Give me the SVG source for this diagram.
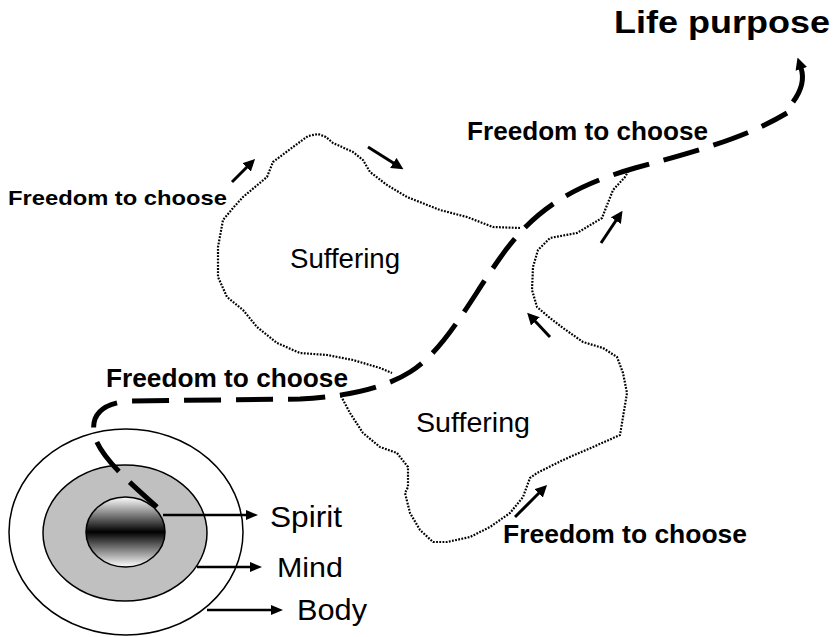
<svg xmlns="http://www.w3.org/2000/svg" width="838" height="637" viewBox="0 0 838 637">
<style>
  .lbl { font-family: "Liberation Sans", Arial, sans-serif; fill: #000; }
  .b { font-weight: bold; }
  .dot { fill: none; stroke: #000; stroke-width: 2.2; stroke-dasharray: 1.8 1.4; stroke-linejoin: round; }
  .arr { fill: none; stroke: #000; stroke-width: 3; marker-end: url(#head); }
  .larr { fill: none; stroke: #000; stroke-width: 2.5; marker-end: url(#head2); }
  .path { fill: none; stroke: #000; stroke-width: 5; stroke-dasharray: 37 15; }
</style>
<defs>
  <linearGradient id="spiritGrad" x1="0" y1="0" x2="0" y2="1">
    <stop offset="0" stop-color="#ffffff"/>
    <stop offset="0.5" stop-color="#000000"/>
    <stop offset="1" stop-color="#ffffff"/>
  </linearGradient>
  <marker id="head" viewBox="0 0 12 12" refX="2" refY="6" markerWidth="12" markerHeight="12" markerUnits="userSpaceOnUse" orient="auto">
    <path d="M0,0 L12,6 L0,12 z" fill="#000"/>
  </marker>
  <marker id="head2" viewBox="0 0 12 10" refX="2" refY="5" markerWidth="12" markerHeight="10" markerUnits="userSpaceOnUse" orient="auto">
    <path d="M0,0 L12,5 L0,10 z" fill="#000"/>
  </marker>
  <marker id="head3" viewBox="0 0 12 12" refX="1" refY="6" markerWidth="12" markerHeight="12" markerUnits="userSpaceOnUse" orient="auto">
    <path d="M0,0 L12,6 L0,12 z" fill="#000"/>
  </marker>
</defs>

<g id="suffering1">
  <path class="dot" d="M520,228 L493,227 L467,217 L440,210 L407,197 L387,185 L370,172 L363,160 L353,152 L333,143 L326,137 L318,134 L308,136 L293,147 L273,162 L267,177 L255,187 L243,197 L233,208 L223,220 L218,247 L218,277 L227,297 L243,310 L257,327 L277,343 L300,353 L327,355 L353,360 L380,368 L392,373"/>
  <text class="lbl" x="290" y="268" font-size="27" textLength="110" lengthAdjust="spacingAndGlyphs">Suffering</text>
</g>

<g id="suffering2">
  <path class="dot" d="M341,396 L350,413 L363,433 L380,447 L397,453 L408,467 L408,487 L405,493 L410,513 L420,530 L433,542 L447,542 L470,537 L490,527 L510,513 L523,497 L530,478 L537,473 L563,460 L593,447 L620,435 L623,417 L627,393 L623,373 L617,357 L603,348 L583,342 L563,328 L550,318 L537,307 L532,290 L533,267 L538,250 L550,238 L577,233 L602,218 L613,190 L625,177 L628,172"/>
  <text class="lbl" x="416" y="432" font-size="27" textLength="114" lengthAdjust="spacingAndGlyphs">Suffering</text>
</g>

<g id="self">
  <ellipse cx="126" cy="532" rx="117" ry="103" fill="#fff" stroke="#000" stroke-width="1.5"/>
  <ellipse cx="125" cy="533" rx="82" ry="68" fill="#c0c0c0" stroke="#000" stroke-width="1.5"/>
  <ellipse cx="125.5" cy="532" rx="39.5" ry="35" fill="url(#spiritGrad)" stroke="#000" stroke-width="1.5"/>
</g>

<g id="connectors">
  <path class="path" d="M157,507 C135,487 105,462 96,440 C88,418 100,403 130,401 L300,399 C345,397 385,388 410,372 C445,350 470,300 500,258 C530,215 565,188 635,168 C700,150 745,138 787,113"/>
  <path d="M793,102 C801,91 805,80 801,68" fill="none" stroke="#000" stroke-width="5" marker-end="url(#head3)"/>
  <path class="arr" d="M232,182 L248,166"/>
  <path class="arr" d="M368,147 L395,164"/>
  <path class="arr" d="M601,243 L617,219"/>
  <path class="arr" d="M550,337 L534,320"/>
  <path class="arr" d="M515,517 L540,492"/>
  <path class="larr" d="M163,515 L248,515"/>
  <path class="larr" d="M197,567 L252,567"/>
  <path class="larr" d="M207,610 L273,610"/>
</g>

<g id="labels">
  <text class="lbl b" x="614" y="33" font-size="32" textLength="216" lengthAdjust="spacingAndGlyphs">Life purpose</text>
  <text class="lbl b" x="8" y="205" font-size="21" textLength="219" lengthAdjust="spacingAndGlyphs">Freedom to choose</text>
  <text class="lbl b" x="106" y="387" font-size="25.5" textLength="242" lengthAdjust="spacingAndGlyphs">Freedom to choose</text>
  <text class="lbl b" x="467" y="140" font-size="25" textLength="241" lengthAdjust="spacingAndGlyphs">Freedom to choose</text>
  <text class="lbl b" x="503" y="543" font-size="25" textLength="244" lengthAdjust="spacingAndGlyphs">Freedom to choose</text>
  <text class="lbl" x="270" y="527" font-size="29" textLength="72" lengthAdjust="spacingAndGlyphs">Spirit</text>
  <text class="lbl" x="277" y="577" font-size="28" textLength="66" lengthAdjust="spacingAndGlyphs">Mind</text>
  <text class="lbl" x="297" y="620" font-size="29" textLength="70" lengthAdjust="spacingAndGlyphs">Body</text>
</g>
</svg>
